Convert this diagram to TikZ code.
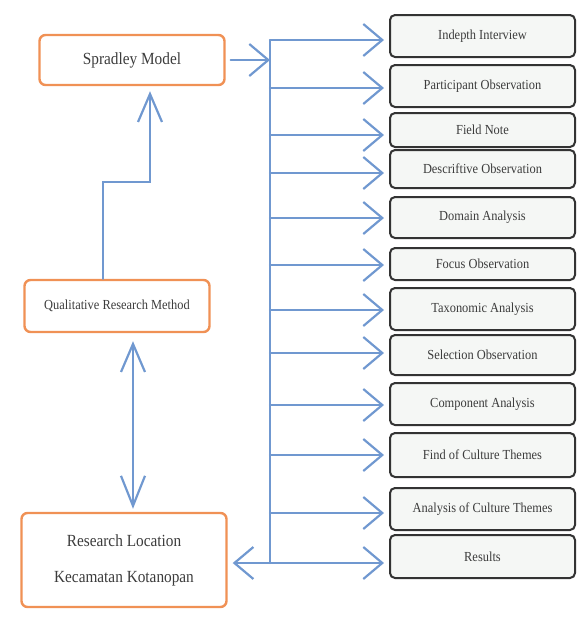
\documentclass[tikz,border=0pt]{standalone}
\usepackage{fontspec}
\setmainfont{Liberation Serif}[FakeStretch=0.9]
\usetikzlibrary{arrows.meta}
\definecolor{linkblue}{RGB}{112,152,208}
\definecolor{frameorange}{RGB}{240,145,85}
\definecolor{textgray}{RGB}{60,60,60}
\definecolor{stagefill}{RGB}{245,247,245}
\begin{document}
\begin{tikzpicture}[
    x=1pt, y=-1pt,
    mainbox/.style={rectangle, rounded corners=6pt, draw=frameorange, line width=2.4pt, fill=white,
      minimum width=185pt, align=center, text=textgray, font=\fontsize{17}{20}\selectfont},
    stagebox/.style={rectangle, rounded corners=5pt, draw=black!80, line width=2pt,
      fill=stagefill, minimum width=185pt, text=textgray,
      font=\fontsize{13.8}{16}\selectfont},
    link/.style={draw=linkblue, line width=2.2pt, line cap=round},
    harrow/.style={link, -{Straight Barb[length=19pt,width=32pt,line width=2.2pt]}},
    varrow/.style={link, -{Straight Barb[length=28pt,width=24pt,line width=2.2pt]}},
    darrow/.style={link, {Straight Barb[length=28pt,width=24pt,line width=2.2pt]}-{Straight Barb[length=30pt,width=24pt,line width=2.2pt]}}
  ]
    \useasboundingbox (0,0) rectangle (577,625);

    % Left boxes
    \node[mainbox, minimum height=50pt] (spradley) at (132,60) {Spradley Model};
    \node[mainbox, minimum height=52pt, font=\fontsize{13.8}{16}\selectfont] (qualitative) at (117,306) {Qualitative Research Method};
    \node[mainbox, minimum width=205pt, minimum height=94pt] (location) at (124,560) {Research Location\\[16pt]Kecamatan Kotanopan};

    % Stages: name/text/centre/height/arrow
    \foreach \name/\txt/\cy/\bh/\ay in {
        indepth/Indepth Interview/36/42/40,
        participant/Participant Observation/86/42/88,
        fieldnote/Field Note/130/34/135,
        descriptive/Descriftive Observation/169/38/173,
        domain/Domain Analysis/217.5/41/218,
        focus/Focus Observation/264/32/265,
        taxonomic/Taxonomic Analysis/309/42/310,
        selection/Selection Observation/355/40/353,
        component/Component Analysis/404/42/405,
        findthemes/Find of Culture Themes/455/44/455,
        analysisthemes/Analysis of Culture Themes/509/42/513,
        results/Results/556.5/43/563} {
      \node[stagebox, minimum height=\bh pt] (\name) at (482.5,\cy) {\txt};
      \coordinate (\name-in) at (270,\ay);
      \draw[harrow, shorten >=5pt] (\name-in) -- (\name.west |- \name-in);
    }

    % Spine
    \draw[link, line width=2pt] (indepth-in) -- (results-in);

    % Arrows
    \draw[harrow, shorten <=5pt] (spradley.east) -- (spradley.east -| indepth-in);
    \draw[varrow, shorten >=5pt] ([xshift=-14pt]qualitative.north) -- ++(0,-97) -| ([xshift=18pt]spradley.south);
    \draw[darrow, shorten <=8pt, shorten >=3pt] ([xshift=16pt]qualitative.south) -- ([xshift=16pt]qualitative.south |- location.north);
    \draw[harrow, shorten >=5pt] (results-in) -- (location.east |- results-in);
\end{tikzpicture}
\end{document}
